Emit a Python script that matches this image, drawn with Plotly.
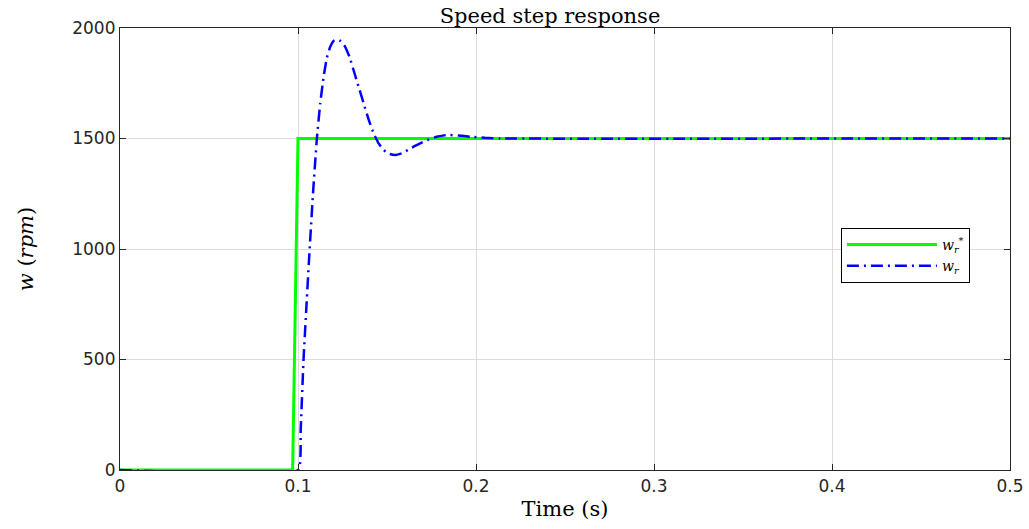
import plotly.graph_objects as go

# Reference speed (step)
t_ref = [0.0, 0.097, 0.1, 0.5]
w_ref = [0, 0, 1500, 1500]

# Measured rotor speed
t_meas = [0.0, 0.1003, 0.1015, 0.1031, 0.1048, 0.1065, 0.1085, 0.1106, 0.1125, 0.1144,
          0.1162, 0.1181, 0.1200, 0.1219, 0.1240, 0.1265, 0.1290, 0.1312, 0.1340, 0.1369,
          0.1397, 0.1425, 0.1453, 0.1481, 0.1515, 0.1547, 0.1590, 0.1631, 0.1678, 0.1725,
          0.1780, 0.1837, 0.1900, 0.1969, 0.2050, 0.2137, 0.5]
w_meas = [0, 0, 180, 498, 750, 995, 1260, 1500, 1660, 1780,
          1865, 1915, 1942, 1949, 1940, 1915, 1868, 1810, 1735, 1659,
          1585, 1523, 1478, 1448, 1430, 1425, 1435, 1455, 1475, 1493,
          1508, 1516, 1514, 1508, 1503, 1500, 1500]

x_ticks = [0, 0.1, 0.2, 0.3, 0.4, 0.5]
x_tick_text = ["0", "0.1", "0.2", "0.3", "0.4", "0.5"]
y_ticks = [0, 500, 1000, 1500, 2000]

fig = go.Figure()
fig.add_trace(go.Scatter(
    x=t_ref, y=w_ref, mode="lines", name="<i>w</i><sub><i>r</i></sub><sup>*</sup>",
    line=dict(color="#00ff00", width=3),
))
fig.add_trace(go.Scatter(
    x=t_meas, y=w_meas, mode="lines", name="<i>w</i><sub><i>r</i></sub>",
    line=dict(color="#0000ff", width=2.5, dash="12px,5px,2px,5px", shape="spline", smoothing=0.3),
))

axis_common = dict(
    showline=True, linecolor="#262626", linewidth=1.2, mirror="allticks",
    ticks="inside", ticklen=6, tickcolor="#262626",
    showgrid=True, gridcolor="#dcdcdc", gridwidth=1, zeroline=False,
    automargin=False,
    tickfont=dict(family="DejaVu Sans", size=17, color="#262626"),
)

fig.update_layout(
    width=1029, height=529,
    margin=dict(l=120, r=19, t=28, b=59),
    paper_bgcolor="white", plot_bgcolor="white",
    title=dict(text="Speed step response", x=0.5345, xanchor="center", y=0.985, yanchor="top",
               font=dict(family="DejaVu Serif", size=21, color="black")),
    xaxis=dict(range=[0, 0.5], tickvals=x_ticks, ticktext=x_tick_text,
               title=dict(text="Time (s)", standoff=6,
                          font=dict(family="DejaVu Serif", size=21, color="black")),
               **axis_common),
    yaxis=dict(range=[0, 2000], tickvals=y_ticks,
               title=dict(text="<i>w</i> (<i>rpm</i>)", standoff=32,
                          font=dict(family="DejaVu Serif", size=21, color="black")),
               **axis_common),
    legend=dict(x=0.81, y=0.5475, xanchor="left", yanchor="top",
                bgcolor="white", bordercolor="black", borderwidth=1,
                itemwidth=90, tracegroupgap=0,
                font=dict(family="DejaVu Serif", size=14, color="black")),
    showlegend=True,
)

fig.write_html("out.html")
